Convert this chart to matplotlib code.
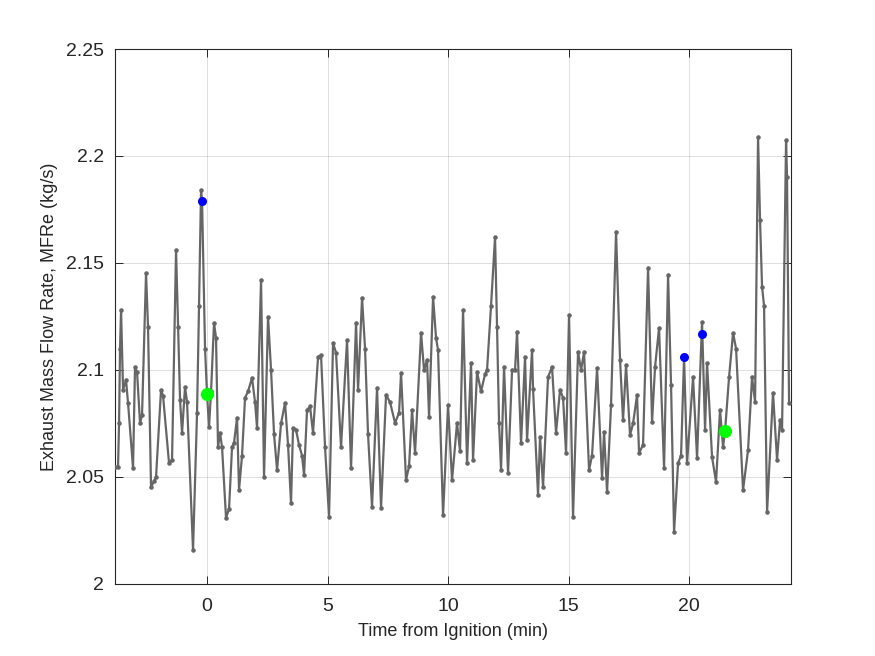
import matplotlib
matplotlib.use("Agg")
import matplotlib.pyplot as plt

plt.rcParams['font.family'] = ['Liberation Sans', 'DejaVu Sans']

# time from ignition (min) and exhaust mass flow rate (kg/s)
time_min = [
    -3.817, -3.693, -3.651, -3.610, -3.568, -3.485, -3.361, -3.278, -3.071, -2.988,
    -2.905, -2.780, -2.697, -2.531, -2.448, -2.324, -2.199, -2.116, -1.909, -1.826,
    -1.577, -1.452, -1.286, -1.203, -1.120, -1.037, -0.913, -0.830, -0.581, -0.415,
    -0.332, -0.249, -0.207, -0.083, 0.000, 0.083, 0.166, 0.290, 0.373, 0.456,
    0.539, 0.622, 0.788, 0.913, 1.037, 1.120, 1.245, 1.328, 1.452, 1.577,
    1.701, 1.867, 1.992, 2.075, 2.241, 2.365, 2.531, 2.656, 2.780, 2.905,
    3.071, 3.236, 3.361, 3.485, 3.568, 3.693, 3.817, 3.942, 4.025, 4.149,
    4.274, 4.398, 4.606, 4.730, 4.896, 5.062, 5.228, 5.353, 5.560, 5.809,
    5.975, 6.183, 6.266, 6.432, 6.556, 6.680, 6.846, 7.054, 7.220, 7.427,
    7.593, 7.801, 7.967, 8.050, 8.257, 8.382, 8.506, 8.631, 8.880, 9.004,
    9.129, 9.212, 9.378, 9.502, 9.585, 9.793, 10.000, 10.166, 10.373, 10.498,
    10.622, 10.788, 10.954, 11.037, 11.203, 11.369, 11.535, 11.618, 11.784, 11.950,
    12.033, 12.116, 12.199, 12.324, 12.490, 12.656, 12.780, 12.863, 13.029, 13.195,
    13.278, 13.485, 13.527, 13.734, 13.817, 13.942, 14.149, 14.315, 14.481, 14.647,
    14.772, 14.896, 15.020, 15.186, 15.394, 15.519, 15.643, 15.851, 15.975, 16.183,
    16.390, 16.473, 16.598, 16.763, 16.971, 17.137, 17.261, 17.386, 17.552, 17.676,
    17.842, 17.925, 18.091, 18.299, 18.465, 18.589, 18.755, 18.963, 19.129, 19.253,
    19.378, 19.544, 19.668, 19.793, 19.917, 20.166, 20.332, 20.539, 20.664, 20.747,
    20.954, 21.120, 21.286, 21.411, 21.494, 21.660, 21.826, 21.950, 22.241, 22.448,
    22.614, 22.739, 22.863, 22.946, 23.029, 23.112, 23.237, 23.484, 23.651, 23.776,
    23.859, 24.025, 24.066, 24.149,
]
mfre = [
    2.0547, 2.0547, 2.075, 2.110, 2.128, 2.0907, 2.0953, 2.0846, 2.0542, 2.1014,
    2.099, 2.0752, 2.079, 2.1453, 2.120, 2.0453, 2.048, 2.050, 2.0907, 2.088,
    2.0565, 2.058, 2.156, 2.120, 2.086, 2.0706, 2.092, 2.085, 2.0159, 2.080,
    2.130, 2.184, 2.179, 2.110, 2.0888, 2.0734, 2.090, 2.122, 2.115, 2.064,
    2.0706, 2.064, 2.031, 2.035, 2.064, 2.066, 2.0776, 2.044, 2.060, 2.087,
    2.090, 2.0963, 2.085, 2.0729, 2.142, 2.050, 2.1248, 2.100, 2.070, 2.0533,
    2.075, 2.0846, 2.065, 2.0378, 2.0729, 2.072, 2.065, 2.060, 2.0509, 2.0813,
    2.083, 2.0706, 2.106, 2.107, 2.064, 2.0313, 2.1126, 2.108, 2.064, 2.114,
    2.0542, 2.122, 2.0907, 2.1337, 2.110, 2.070, 2.036, 2.0916, 2.0355, 2.0883,
    2.085, 2.0752, 2.080, 2.0986, 2.0486, 2.055, 2.0813, 2.0612, 2.1173, 2.100,
    2.1047, 2.078, 2.1341, 2.115, 2.1093, 2.0322, 2.0836, 2.0486, 2.0752, 2.062,
    2.128, 2.0565, 2.1033, 2.058, 2.0991, 2.090, 2.098, 2.100, 2.130, 2.1621,
    2.120, 2.0752, 2.0533, 2.1014, 2.0519, 2.100, 2.100, 2.1178, 2.0659, 2.106,
    2.0673, 2.1093, 2.091, 2.0416, 2.0687, 2.0453, 2.0967, 2.1014, 2.0706, 2.0907,
    2.087, 2.0612, 2.1257, 2.0313, 2.1084, 2.100, 2.1084, 2.0533, 2.060, 2.1009,
    2.0495, 2.071, 2.043, 2.0836, 2.1645, 2.1047, 2.0766, 2.1023, 2.0696, 2.075,
    2.0883, 2.0612, 2.065, 2.1477, 2.0757, 2.1014, 2.1196, 2.0542, 2.1444, 2.093,
    2.0243, 2.0565, 2.060, 2.106, 2.0565, 2.0967, 2.0589, 2.1224, 2.072, 2.1033,
    2.0593, 2.0477, 2.0813, 2.064, 2.0715, 2.0967, 2.1173, 2.110, 2.0439, 2.0626,
    2.0967, 2.085, 2.2089, 2.170, 2.1388, 2.130, 2.0336, 2.0893, 2.058, 2.0766,
    2.072, 2.2075, 2.190, 2.0846,
]

# highlighted points
blue_t = [-0.207, 19.793, 20.539]
blue_v = [2.179, 2.106, 2.1168]
green_t = [0.0, 21.494]
green_v = [2.0888, 2.0715]

y_ticks = [2.0, 2.05, 2.1, 2.15, 2.2, 2.25]
y_tick_labels = ['2', '2.05', '2.1', '2.15', '2.2', '2.25']
x_ticks = [0, 5, 10, 15, 20]

dark = (0.15, 0.15, 0.15)

fig = plt.figure(figsize=(8.75, 6.56), dpi=100)
ax = fig.add_axes([0.1314, 0.1098, 0.7726, 0.8155])

ax.plot(time_min, mfre, '.-', color=(0.4, 0.4, 0.4), linewidth=1.6,
        markersize=4.5, zorder=3)
ax.plot(blue_t, blue_v, 'o', color='#0000ff', markersize=6.5, zorder=4,
        markeredgewidth=0)
ax.plot(green_t, green_v, 'o', color='#00ff00', markersize=9.5, zorder=4,
        markeredgewidth=0)

ax.set_xlim(-3.82, 24.23)
ax.set_ylim(2.0, 2.25)
ax.set_xticks(x_ticks)
ax.set_yticks(y_ticks)
ax.set_yticklabels(y_tick_labels)

ax.grid(True, color=dark, alpha=0.15, linewidth=0.7)
ax.set_axisbelow(True)
ax.tick_params(direction='in', length=6, width=0.7, colors=dark,
               labelsize=14, top=True, right=True)
ax.tick_params(axis='x', pad=10)
ax.tick_params(axis='y', pad=8)
for spine in ax.spines.values():
    spine.set_color(dark)
    spine.set_linewidth(0.8)

ax.set_xlabel('Time from Ignition (min)', fontsize=13, color=dark, labelpad=6)
ax.set_ylabel('Exhaust Mass Flow Rate, MFRe (kg/s)', fontsize=13, color=dark,
              labelpad=6)

fig.savefig('out.png', dpi=100)
